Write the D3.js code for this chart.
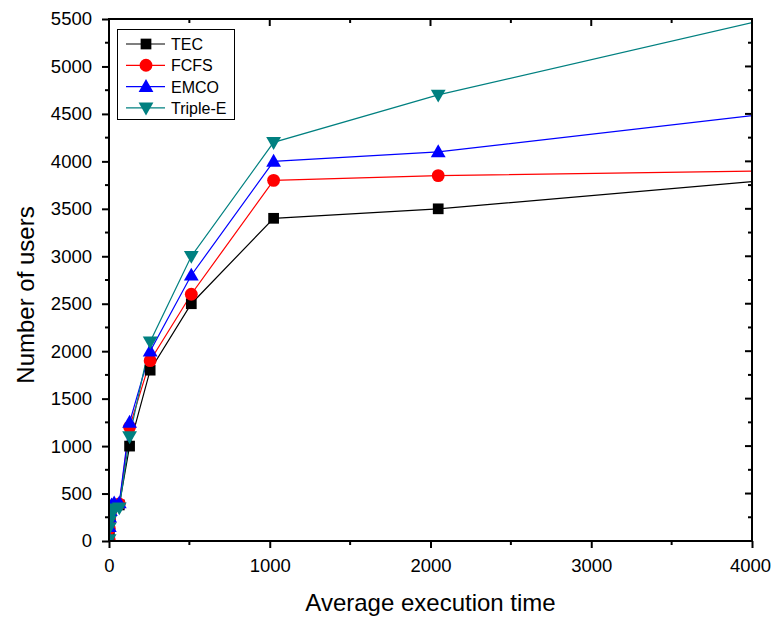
<!DOCTYPE html>
<html>
<head>
<meta charset="utf-8">
<script src="https://cdn.jsdelivr.net/npm/d3@7"></script>
<style>
  html, body { margin: 0; padding: 0; background: #fff; }
  svg { display: block; font-family: "Liberation Sans", Arial, sans-serif; }
</style>
</head>
<body>
<svg id="chart" width="775" height="618"></svg>
<script>
// Execution time samples (powers of two)
const execTimes = [1, 2, 4, 8, 16, 32, 64, 128, 256, 512, 1024, 2048, 4096];

// Number of users served by each scheduling approach
const tecUsers     = [10, 120, 200, 280, 350, 370, 380, 1000, 1800, 2500, 3400, 3500, 3800];
const fcfsUsers    = [15, 130, 220, 300, 360, 380, 390, 1200, 1900, 2600, 3800, 3850, 3900];
const emcoUsers    = [20, 150, 250, 320, 380, 400, 400, 1250, 2000, 2800, 4000, 4100, 4500];
const tripleEUsers = [15, 140, 210, 260, 320, 340, 350, 1100, 2100, 3000, 4200, 4700, 5500];

const seriesNames = ["TEC", "FCFS", "EMCO", "Triple-E"];
const xTicks = [0, 1000, 2000, 3000, 4000];
const yTicks = [0, 500, 1000, 1500, 2000, 2500, 3000, 3500, 4000, 4500, 5000, 5500];

const series = [
  { name: seriesNames[0], values: tecUsers,     color: "#000000", symbol: d3.symbolSquare,   size: 115, rot: 0 },
  { name: seriesNames[1], values: fcfsUsers,    color: "#ff0000", symbol: d3.symbolCircle,   size: 130, rot: 0 },
  { name: seriesNames[2], values: emcoUsers,    color: "#0000ff", symbol: d3.symbolTriangle, size: 95,  rot: 0 },
  { name: seriesNames[3], values: tripleEUsers, color: "#008080", symbol: d3.symbolTriangle, size: 95,  rot: 180 }
];

const svg = d3.select("#chart");
const plotL = 109, plotR = 752, plotT = 19, plotB = 541;

const x = d3.scaleLinear().domain([0, 4000]).range([plotL, plotR]);
const y = d3.scaleLinear().domain([0, 5500]).range([plotB, plotT]);

svg.append("defs").append("clipPath").attr("id", "plotClip")
  .append("rect").attr("x", plotL).attr("y", plotT - 8)
  .attr("width", plotR - plotL).attr("height", plotB - plotT + 8);

const plot = svg.append("g").attr("clip-path", "url(#plotClip)");

const line = d3.line().x((d, i) => x(execTimes[i])).y(d => y(d));

series.forEach(s => {
  plot.append("path")
    .datum(s.values)
    .attr("d", line)
    .attr("fill", "none")
    .attr("stroke", s.color)
    .attr("stroke-width", 1.2);
});

function markerShift(s) {
  if (s.symbol !== d3.symbolTriangle) return 0;
  return s.rot ? -1 : 1;
}

series.forEach(s => {
  const sym = d3.symbol().type(s.symbol).size(s.size);
  plot.selectAll(null)
    .data(s.values)
    .join("path")
    .attr("d", sym)
    .attr("transform", (d, i) => `translate(${x(execTimes[i])},${y(d) + markerShift(s)}) rotate(${s.rot})`)
    .attr("fill", s.color);
});

// Axes: bottom and left with outward ticks, top and right mirrored inward
const minorX = d3.range(500, 4000, 1000);
const minorY = d3.range(250, 5500, 500);

const axisColor = "#000";

const xAxis = d3.axisBottom(x).tickValues(xTicks).tickSize(7).tickPadding(11).tickFormat(d3.format("d"));
const xg = svg.append("g").attr("transform", `translate(0,${plotB})`).call(xAxis);
xg.selectAll(".tick").filter(d => d === 4000).select("text").attr("dx", -2);
xg.selectAll(null).data(minorX).join("line")
  .attr("x1", d => x(d)).attr("x2", d => x(d)).attr("y1", 0).attr("y2", 4)
  .attr("stroke", axisColor).attr("stroke-width", 2);

const yAxis = d3.axisLeft(y).tickValues(yTicks).tickSize(7).tickPadding(10).tickFormat(d3.format("d"));
const yg = svg.append("g").attr("transform", `translate(${plotL},0)`).call(yAxis);
yg.selectAll(null).data(minorY).join("line")
  .attr("x1", 0).attr("x2", -4).attr("y1", d => y(d)).attr("y2", d => y(d))
  .attr("stroke", axisColor).attr("stroke-width", 2);

[xg, yg].forEach(g => {
  g.select(".domain").remove();
  g.selectAll(".tick line").attr("stroke-width", 2);
  g.selectAll(".tick text").attr("font-size", 18.5).attr("fill", "#000")
    .attr("font-family", "\"Liberation Sans\", Arial, sans-serif");
});

const frame = svg.append("g");
// Top mirrored ticks
frame.selectAll(null).data(xTicks).join("line")
  .attr("x1", d => x(d)).attr("x2", d => x(d)).attr("y1", plotT).attr("y2", plotT + 7)
  .attr("stroke", axisColor).attr("stroke-width", 2);
frame.selectAll(null).data(minorX).join("line")
  .attr("x1", d => x(d)).attr("x2", d => x(d)).attr("y1", plotT).attr("y2", plotT + 4)
  .attr("stroke", axisColor).attr("stroke-width", 2);
// Right mirrored ticks
frame.selectAll(null).data(yTicks).join("line")
  .attr("x1", plotR).attr("x2", plotR - 7).attr("y1", d => y(d)).attr("y2", d => y(d))
  .attr("stroke", axisColor).attr("stroke-width", 2);
frame.selectAll(null).data(minorY).join("line")
  .attr("x1", plotR).attr("x2", plotR - 4).attr("y1", d => y(d)).attr("y2", d => y(d))
  .attr("stroke", axisColor).attr("stroke-width", 2);

frame.append("rect")
  .attr("x", plotL).attr("y", plotT)
  .attr("width", plotR - plotL).attr("height", plotB - plotT)
  .attr("fill", "none").attr("stroke", axisColor).attr("stroke-width", 2);

// Axis titles
svg.append("text")
  .attr("x", (plotL + plotR) / 2).attr("y", 611)
  .attr("text-anchor", "middle").attr("font-size", 24)
  .text("Average execution time");

svg.append("text")
  .attr("transform", `translate(34,295) rotate(-90)`)
  .attr("text-anchor", "middle").attr("font-size", 24)
  .text("Number of users");

// Legend
const lg = svg.append("g");
lg.append("rect")
  .attr("x", 117.5).attr("y", 29.5).attr("width", 117).attr("height", 90)
  .attr("fill", "#fff").attr("stroke", "#000").attr("stroke-width", 1);

series.forEach((s, i) => {
  const cy = 44 + i * 21.3;
  lg.append("line")
    .attr("x1", 126).attr("x2", 165).attr("y1", cy).attr("y2", cy)
    .attr("stroke", s.color).attr("stroke-width", 1.2);
  lg.append("path")
    .attr("d", d3.symbol().type(s.symbol).size(s.size)())
    .attr("transform", `translate(146,${cy + markerShift(s)}) rotate(${s.rot})`)
    .attr("fill", s.color);
  lg.append("text")
    .attr("x", 171).attr("y", cy + 6)
    .attr("font-size", 16)
    .text(s.name);
});
</script>
</body>
</html>
